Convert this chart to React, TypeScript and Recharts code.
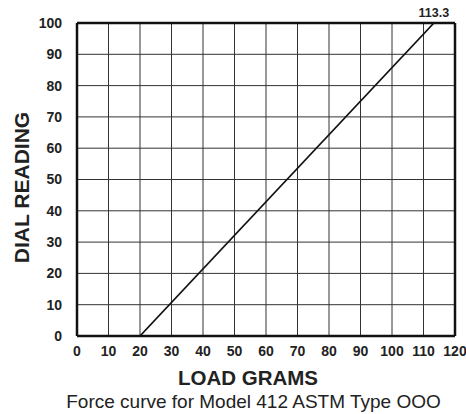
import React from "react";
import { LineChart, Line, XAxis, YAxis, CartesianGrid, ReferenceLine, Label } from "recharts";

const loadGrams = [20, 113.3];
const dialReading = [0, 100];
const xTicks = [0, 10, 20, 30, 40, 50, 60, 70, 80, 90, 100, 110, 120];
const yTicks = [0, 10, 20, 30, 40, 50, 60, 70, 80, 90, 100];
const endLabel = "113.3";
const xTitle = "LOAD GRAMS";
const yTitle = "DIAL READING";
const subtitle = "Force curve for Model 412 ASTM Type OOO";

const data = loadGrams.map((x, i) => ({ x, y: dialReading[i] }));

const FONT = "'Liberation Sans', Arial, sans-serif";

const EndLabel = (props: any) => {
  const { x, y, index } = props;
  if (index !== data.length - 1) return null;
  return (
    <text x={x} y={y - 6} textAnchor="middle" fontFamily={FONT} fontWeight="bold" fontSize={12.5} fill="#222">
      {endLabel}
    </text>
  );
};

const XTitle = (props: any) => {
  const vb = props.viewBox || {};
  const top = vb.y ?? 336;
  return (
    <g>
      <text x={248} y={top + 49} textAnchor="middle" fontFamily={FONT} fontWeight="bold" fontSize={20.5} fill="#222">
        {xTitle}
      </text>
      <text x={253.5} y={top + 72} textAnchor="middle" fontFamily={FONT} fontSize={19} fill="#222">
        {subtitle}
      </text>
    </g>
  );
};

const YTitle = (props: any) => {
  const vb = props.viewBox || {};
  const cy = (vb.y ?? 23) + (vb.height ?? 313) / 2 + 8;
  const cx = 21;
  return (
    <text
      x={cx}
      y={cy}
      transform={`rotate(-90 ${cx} ${cy})`}
      textAnchor="middle"
      dominantBaseline="central"
      fontFamily={FONT}
      fontWeight="bold"
      fontSize={21}
      fill="#222"
    >
      {yTitle}
    </text>
  );
};

export default function App() {
  return (
    <div style={{ position: "absolute", left: 0, top: 0, width: 466, height: 414, background: "#fff" }}>
      <LineChart width={466} height={414} data={data} margin={{ top: 23, right: 11, bottom: 0, left: 0 }}>
        <CartesianGrid stroke="#333" strokeWidth={1} />
        <XAxis
          dataKey="x"
          type="number"
          domain={[0, 120]}
          ticks={xTicks}
          interval={0}
          height={78}
          axisLine={{ stroke: "#111", strokeWidth: 2.5 }}
          tickLine={false}
          tickSize={4}
          tickMargin={6}
          tick={{ fontFamily: FONT, fontWeight: "bold", fontSize: 14, fill: "#222" }}
        >
          <Label content={<XTitle />} />
        </XAxis>
        <YAxis
          dataKey="y"
          type="number"
          domain={[0, 100]}
          ticks={yTicks}
          interval={0}
          width={77}
          axisLine={{ stroke: "#111", strokeWidth: 2.5 }}
          tickLine={false}
          tickSize={0}
          tickMargin={15}
          tick={{ fontFamily: FONT, fontWeight: "bold", fontSize: 14, fill: "#222" }}
        >
          <Label content={<YTitle />} />
        </YAxis>
        <ReferenceLine x={120} stroke="#111" strokeWidth={2.5} />
        <ReferenceLine y={100} stroke="#111" strokeWidth={2.5} />
        <Line
          dataKey="y"
          stroke="#111"
          strokeWidth={1.8}
          dot={false}
          isAnimationActive={false}
          label={<EndLabel />}
        />
      </LineChart>
    </div>
  );
}
